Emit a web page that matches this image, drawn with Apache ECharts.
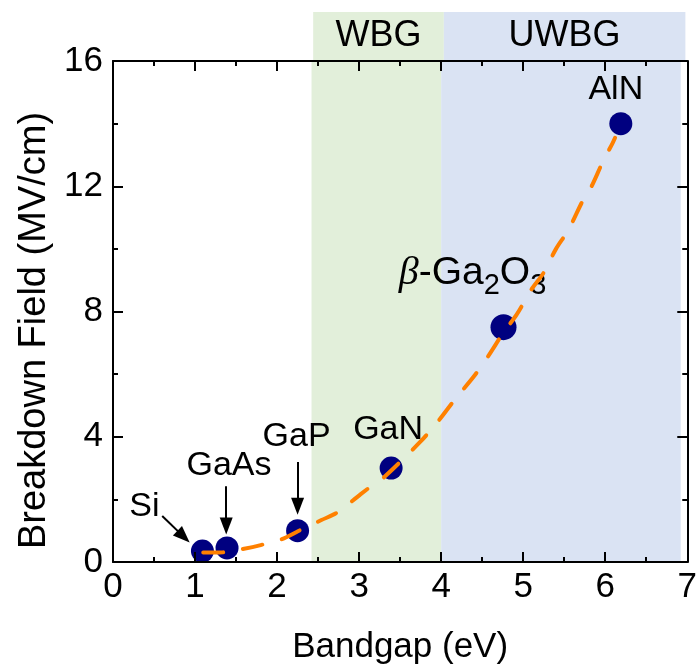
<!DOCTYPE html>
<html><head><meta charset="utf-8">
<script src="https://cdn.jsdelivr.net/npm/echarts@6/dist/echarts.min.js"></script>
<style>html,body{margin:0;padding:0;background:#fff}#c{width:700px;height:670px}</style>
</head><body><div id="c"></div>
<script>
// ---- data ----
const materials = ['Si', 'GaAs', 'GaP', 'GaN', 'β-Ga2O3', 'AlN'];
const bandgap   = [1.09, 1.39, 2.25, 3.39, 4.76, 6.19];
const breakdown = [0.35, 0.45, 1.0, 3.0, 7.5, 14.0];

const fitX = [1.10, 1.34, 1.57, 1.80, 2.06, 2.26, 2.54, 2.74, 3.02, 3.23, 3.31, 3.75, 3.98, 4.17, 4.40, 4.58, 4.76, 4.92, 5.10, 5.25, 5.40, 5.55, 5.73, 5.83, 5.97, 6.09, 6.12];
const fitY = [0.30, 0.31, 0.41, 0.54, 0.73, 0.99, 1.34, 1.59, 2.17, 2.58, 2.72, 3.85, 4.55, 5.20, 5.93, 6.60, 7.33, 7.90, 8.70, 9.24, 10.0, 10.6, 11.56, 11.98, 12.78, 13.38, 13.55];

const regionNames = ['WBG', 'UWBG'];
const regionStart = [2.42, 4.0];
const regionEnd   = [4.0, 6.92];

const arrowFromX = [0.60, 1.38, 2.25];
const arrowFromY = [1.47, 2.42, 3.19];
const arrowToX   = [0.86, 1.38, 2.25];
const arrowToY   = [0.81, 1.15, 1.78];

const xMin = 0, xMax = 7, xStep = 1;
const yMin = 0, yMax = 16, yStep = 4;

// ---- styles ----
const FONT = "'Liberation Sans', Arial, sans-serif";
const regionColors = ['#E2EFDA', '#DAE3F3'];
const labelOffsets = [[-58, -44], [2, -82], [-1, -94], [-3, -38], [-31, -54], [-5, -34]];
const markerSizes = [23, 23, 23, 23, 26, 23];

const chart = echarts.init(document.getElementById('c'), null, {renderer: 'canvas'});

function axisLineStyle() { return {show: true, onZero: false, lineStyle: {color: '#000', width: 2}}; }
function tickStyle() { return {show: true, inside: true, length: 10, lineStyle: {color: '#000', width: 2}}; }
function minorStyle() { return {show: true, splitNumber: 2, length: 5, lineStyle: {color: '#000', width: 2}}; }

function areaData(withLabel) {
  return regionNames.map((n, i) => [
    {name: withLabel ? n : '', xAxis: regionStart[i], itemStyle: {color: regionColors[i], opacity: 1}},
    {xAxis: regionEnd[i]}
  ]);
}

const scatterData = materials.map((m, i) => {
  const isGa2O3 = m.indexOf('Ga2O3') >= 0;
  return {
    name: m,
    value: [bandgap[i], breakdown[i]],
    symbolSize: markerSizes[i],
    label: {
      show: true,
      position: 'inside',
      offset: labelOffsets[i],
      formatter: isGa2O3 ? '{beta|β}{n|-Ga}{sub|2}{n|O}{sub|3}' : m,
      color: '#000',
      fontSize: 34,
      fontFamily: FONT,
      rich: isGa2O3 ? {
        beta: {fontSize: 40, fontStyle: 'italic', fontFamily: "'Liberation Serif', 'DejaVu Serif', serif", lineHeight: 54, color: '#000'},
        n: {fontSize: 39, fontFamily: FONT, lineHeight: 54, color: '#000'},
        sub: {fontSize: 29, fontFamily: FONT, verticalAlign: 'bottom', color: '#000'}
      } : undefined
    }
  };
});

const arrowData = arrowFromX.map((x, i) => [
  {coord: [x, arrowFromY[i]]},
  {coord: [arrowToX[i], arrowToY[i]]}
]);

const option = {
  animation: false,
  backgroundColor: '#fff',
  grid: [
    {left: 113, right: 8, top: 61, bottom: 107, containLabel: false},
    {left: 113, right: 8, top: 12, height: 49, containLabel: false}
  ],
  xAxis: [
    {
      gridIndex: 0, type: 'value', min: xMin, max: xMax, interval: xStep, position: 'bottom', z: 10,
      axisLine: axisLineStyle(), axisTick: tickStyle(), minorTick: minorStyle(), splitLine: {show: false},
      axisLabel: {color: '#000', fontSize: 35, fontFamily: FONT, margin: 8},
      name: 'Bandgap (eV)', nameLocation: 'middle', nameGap: 68,
      nameTextStyle: {color: '#000', fontSize: 35, fontFamily: FONT}
    },
    {
      gridIndex: 0, type: 'value', min: xMin, max: xMax, interval: xStep, position: 'top', z: 10,
      axisLine: axisLineStyle(), axisTick: tickStyle(), minorTick: minorStyle(), splitLine: {show: false},
      axisLabel: {show: false}
    },
    {
      gridIndex: 1, type: 'value', min: xMin, max: xMax, show: false
    }
  ],
  yAxis: [
    {
      gridIndex: 0, type: 'value', min: yMin, max: yMax, interval: yStep, position: 'left', z: 10,
      axisLine: axisLineStyle(), axisTick: tickStyle(), minorTick: minorStyle(), splitLine: {show: false},
      axisLabel: {color: '#000', fontSize: 35, fontFamily: FONT, margin: 10},
      name: 'Breakdown Field (MV/cm)', nameLocation: 'middle', nameGap: 58,
      nameTextStyle: {color: '#000', fontSize: 38, fontFamily: FONT, padding: [0, 38, 0, 0]}
    },
    {
      gridIndex: 0, type: 'value', min: yMin, max: yMax, interval: yStep, position: 'right', z: 10,
      axisLine: axisLineStyle(), axisTick: tickStyle(), minorTick: minorStyle(), splitLine: {show: false},
      axisLabel: {show: false}
    },
    {
      gridIndex: 1, type: 'value', min: 0, max: 1, show: false
    }
  ],
  series: [
    {
      type: 'scatter', xAxisIndex: 0, yAxisIndex: 0, data: [],
      markArea: {silent: true, z: 1, label: {show: false}, data: areaData(false)}
    },
    {
      type: 'scatter', xAxisIndex: 2, yAxisIndex: 2, data: [],
      markArea: {
        silent: true,
        label: {show: true, position: 'inside', color: '#000', fontSize: 36, fontFamily: FONT},
        data: areaData(true)
      }
    },
    {
      type: 'scatter', xAxisIndex: 0, yAxisIndex: 0, z: 3,
      itemStyle: {color: '#000080', opacity: 1},
      data: scatterData,
      markLine: {
        silent: true,
        symbol: ['none', 'triangle'],
        symbolSize: [13, 17],
        label: {show: false},
        lineStyle: {color: '#000', width: 2, type: 'solid'},
        data: arrowData
      }
    },
    {
      type: 'line', xAxisIndex: 0, yAxisIndex: 0, z: 4,
      data: fitX.map((x, i) => [x, fitY[i]]),
      smooth: 0.3, showSymbol: false, symbol: 'none',
      lineStyle: {color: '#FF8000', width: 4, type: [20, 20], cap: 'round'}
    }
  ]
};
chart.setOption(option);
</script>
</body></html>
